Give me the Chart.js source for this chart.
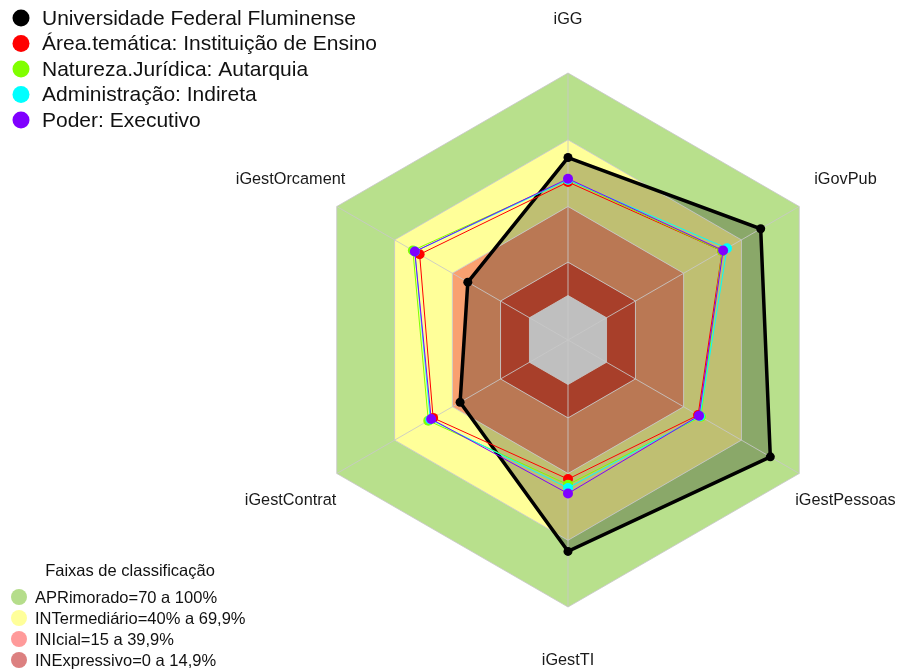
<!DOCTYPE html>
<html>
<head>
<meta charset="utf-8">
<script src="https://cdn.jsdelivr.net/npm/chart.js@4.4.1/dist/chart.umd.min.js"></script>
<style>
  body { margin: 0; background: #fff; }
  #wrap { width: 901px; height: 672px; position: relative; }
</style>
</head>
<body>
<div id="wrap"><canvas id="myChart"></canvas></div>
<script>
const axes = ['iGG', 'iGovPub', 'iGestPessoas', 'iGestTI', 'iGestContrat', 'iGestOrcament'];

const seriesNames = ['Universidade Federal Fluminense', 'Área.temática: Instituição de Ensino',
  'Natureza.Jurídica: Autarquia', 'Administração: Indireta', 'Poder: Executivo'];
const uff      = [0.62, 0.80, 0.85, 0.75, 0.36, 0.32];
const area     = [0.51, 0.60, 0.475, 0.425, 0.50, 0.57];
const natureza = [0.52, 0.60, 0.49, 0.45, 0.525, 0.605];
const admin    = [0.52, 0.625, 0.485, 0.465, 0.515, 0.595];
const poder    = [0.525, 0.605, 0.48, 0.49, 0.51, 0.595];
const seriesColors = ['#000000', '#ff0000', '#80ff00', '#00ffff', '#8000ff'];

// classification bands (upper limits) and legend
const bandLimits = [1, 0.7, 0.4, 0.15, 0];
const bandFill = ['#b8e08c', '#ffff99', '#f9a070', '#e05538'];
const bandNames = ['APRimorado=70 a 100%', 'INTermediário=40% a 69,9%', 'INIcial=15 a 39,9%', 'INExpressivo=0 a 14,9%'];
const bandLegendColors = ['#b5dd8b', '#ffff9a', '#ff9a9a', '#dc8080'];
const tickValues = [-0.2, 0, 0.15, 0.4, 0.7, 1];

const seriesData = [uff, area, natureza, admin, poder];

const datasets = [];
seriesData.forEach(function(d, i) {
  datasets.push({
    label: seriesNames[i],
    data: d,
    borderColor: seriesColors[i],
    backgroundColor: i === 0 ? 'rgba(0,0,0,0.25)' : seriesColors[i],
    fill: i === 0 ? 'start' : false,
    borderWidth: i === 0 ? 3.5 : 1,
    pointRadius: i === 0 ? 4.5 : 5,
    pointBackgroundColor: seriesColors[i],
    pointBorderWidth: 0,
    order: 5 - i
  });
});
bandLimits.forEach(function(v, i) {
  datasets.push({
    label: 'band' + i,
    data: axes.map(() => v),
    borderWidth: 0,
    pointRadius: 0,
    pointHoverRadius: 0,
    backgroundColor: i < bandFill.length ? bandFill[i] : 'rgba(0,0,0,0)',
    fill: i < bandFill.length ? '+1' : false,
    order: 10
  });
});

const overlay = {
  id: 'overlay',
  afterDraw(chart) {
    const ctx = chart.ctx;
    const r = chart.scales.r;
    ctx.save();
    // axis labels
    ctx.fillStyle = '#1a1a1a';
    ctx.font = '16.3px "Liberation Sans", Arial, sans-serif';
    ctx.textAlign = 'center';
    ctx.textBaseline = 'middle';
    axes.forEach(function(lab, i) {
      const p = r.getPointPosition(i, r.drawingArea * 1.2);
      ctx.fillText(lab, p.x, p.y);
    });
    // series legend
    ctx.textAlign = 'left';
    ctx.font = '21px "Liberation Sans", Arial, sans-serif';
    seriesNames.forEach(function(n, i) {
      const y = 18 + i * 25.5;
      ctx.fillStyle = seriesColors[i];
      ctx.beginPath();
      ctx.arc(21, y, 8.5, 0, Math.PI * 2);
      ctx.fill();
      ctx.fillStyle = '#111';
      ctx.fillText(n, 42, y + 1);
    });
    // band legend
    ctx.font = '16.5px "Liberation Sans", Arial, sans-serif';
    ctx.fillStyle = '#111';
    ctx.textAlign = 'center';
    ctx.fillText('Faixas de classificação', 130, 571);
    ctx.textAlign = 'left';
    bandNames.forEach(function(n, i) {
      const y = 597 + i * 21;
      ctx.fillStyle = bandLegendColors[i];
      ctx.beginPath();
      ctx.arc(19, y, 8, 0, Math.PI * 2);
      ctx.fill();
      ctx.fillStyle = '#111';
      ctx.fillText(n, 35, y + 1);
    });
    ctx.restore();
  }
};

const ctx = document.getElementById('myChart').getContext('2d');
const myChart = new Chart(ctx, {
  type: 'radar',
  data: { labels: axes, datasets: datasets },
  options: {
    responsive: true,
    maintainAspectRatio: false,
    animation: false,
    layout: { padding: { top: 73, bottom: 65, left: 301, right: 66 } },
    elements: { line: { tension: 0 } },
    plugins: {
      legend: { display: false },
      tooltip: { enabled: false },
      filler: { drawTime: 'beforeDraw' }
    },
    scales: {
      r: {
        min: -0.2,
        max: 1,
        afterBuildTicks: function(scale) {
          scale.ticks = tickValues.map(v => ({ value: v }));
        },
        ticks: { display: false },
        pointLabels: { display: false },
        grid: { color: 'rgba(200,200,200,0.85)', lineWidth: 1 },
        angleLines: { color: 'rgba(200,200,200,0.85)', lineWidth: 1 }
      }
    }
  },
  plugins: [overlay]
});
</script>
</body>
</html>
